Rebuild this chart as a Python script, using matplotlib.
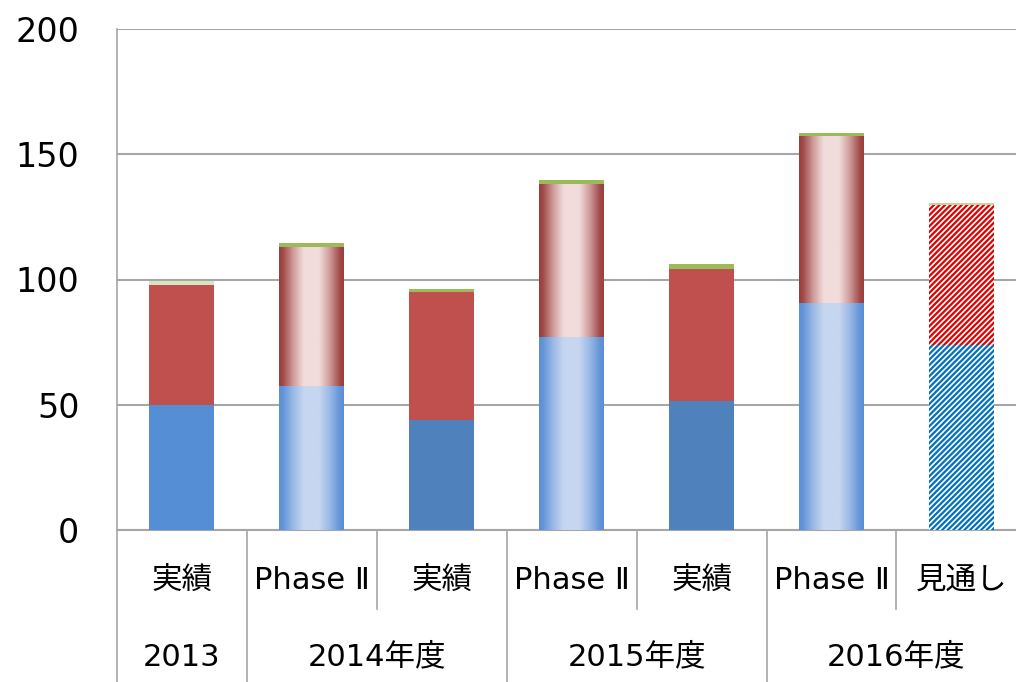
import numpy as np
import matplotlib
matplotlib.use("Agg")
import matplotlib.pyplot as plt
from matplotlib.colors import to_rgb

plt.rcParams['font.family'] = ['DejaVu Sans', 'Noto Sans CJK JP']

# ---- data ----
categories = ['実績', 'Phase Ⅱ', '実績', 'Phase Ⅱ', '実績', 'Phase Ⅱ', '見通し']
years = ['2013', '2014年度', '2015年度', '2016年度']
year_spans = [(0, 0), (1, 2), (3, 4), (5, 6)]
blue = [50, 57.5, 44, 77, 51.5, 90.5, 74]
red = [48, 55.5, 51, 61, 52.7, 66.8, 55.7]
green = [1.3, 1.5, 1.2, 1.7, 1.8, 1.3, 0.7]
yticks = [0, 50, 100, 150, 200]

# ---- styles ----
kinds = ['solid', 'grad', 'solid', 'grad', 'solid', 'grad', 'hatch']
blue_solid = ['#558ED5', None, '#4F81BD', None, '#4F81BD', None, None]
green_col = ['#D7E4BD', '#9BBB59', '#9BBB59', '#9BBB59', '#9BBB59', '#9BBB59', '#C3D69B']
red_solid = '#C0504D'

W, H = 1016, 682
fig = plt.figure(figsize=(W / 100, H / 100), dpi=100)
left_px, right_px, top_px, bot_px = 117, 117 + 7 * 129.9, 29, 530
ax = fig.add_axes([left_px / W, 1 - bot_px / H, (right_px - left_px) / W, (bot_px - top_px) / H])

x = np.arange(len(categories))
bw = 0.5
blue_a = np.array(blue)
red_a = np.array(red)

def grad_img(edge, center):
    e = np.array(to_rgb(edge)); c = np.array(to_rgb(center))
    t = np.linspace(0, 1, 200)
    w = np.interp(t, [0, 0.06, 0.22, 0.38, 0.62, 0.78, 0.94, 1.0],
                  [0, 0.08, 0.6, 1, 1, 0.6, 0.08, 0])
    return (e[None, :] * (1 - w[:, None]) + c[None, :] * w[:, None])[None, :, :]

blue_grad = grad_img('#5A8FD6', '#C6D6F0')
red_grad = grad_img('#9A3E3C', '#F2DCDB')

def draw_series(vals, bottoms, layer):
    for i in range(len(vals)):
        k = kinds[i]
        if layer == 'blue':
            fc = blue_solid[i]; gimg = blue_grad; hc = '#0070C0'
        else:
            fc = red_solid; gimg = red_grad; hc = '#E00000'
        if k == 'solid':
            ax.bar(x[i], vals[i], bw, bottom=bottoms[i], color=fc, linewidth=0, zorder=3)
        elif k == 'grad':
            p = ax.bar(x[i], vals[i], bw, bottom=bottoms[i], color='none', linewidth=0, zorder=3)[0]
            ax.imshow(gimg, extent=[p.get_x(), p.get_x() + p.get_width(), p.get_y(), p.get_y() + p.get_height()],
                      aspect='auto', interpolation='bilinear', zorder=3)
        else:
            ax.bar(x[i], vals[i], bw, bottom=bottoms[i], facecolor='white', edgecolor=hc,
                   hatch='//////', linewidth=0, zorder=3)

plt.rcParams['hatch.linewidth'] = 1.6
draw_series(blue_a, np.zeros(len(blue)), 'blue')
draw_series(red_a, blue_a, 'red')
ax.bar(x, green, bw, bottom=blue_a + red_a, color=green_col, linewidth=0, zorder=3)

ax.set_xlim(-0.5, 6.5)
ax.set_ylim(0, 200)
ax.set_yticks(yticks)
ax.yaxis.grid(True, color='#A6A6A6', linewidth=1.5, zorder=0)
ax.set_axisbelow(True)
ax.tick_params(axis='y', length=0, pad=27, labelsize=24)
ax.set_xticks([])
for s in ['top', 'right']:
    ax.spines[s].set_visible(False)
ax.spines['left'].set_color('#A6A6A6')
ax.spines['left'].set_linewidth(1.2)
ax.spines['bottom'].set_color('#A6A6A6')
ax.spines['bottom'].set_linewidth(1.5)

# hierarchical category axis
tr = ax.get_xaxis_transform()
row1_y, row2_y = -0.10, -0.254
short_end, full_end = -0.158, -0.31
for i, c in enumerate(categories):
    ax.text(x[i], row1_y, c, transform=tr, ha='center', va='center', fontsize=22, clip_on=False)
for name, (a, b) in zip(years, year_spans):
    ax.text((x[a] + x[b]) / 2, row2_y, name, transform=tr, ha='center', va='center', fontsize=22, clip_on=False)
# separators
ax.plot([-0.5, -0.5], [0, full_end], transform=tr, color='#A6A6A6', lw=1.2, clip_on=False)
inner_starts = set(a for a, b in year_spans)
for i in range(1, len(categories)):
    end = full_end if i in inner_starts else short_end
    ax.plot([i - 0.5, i - 0.5], [0, end], transform=tr, color='#A6A6A6', lw=1.2, clip_on=False)

fig.savefig('out.png', dpi=100)
